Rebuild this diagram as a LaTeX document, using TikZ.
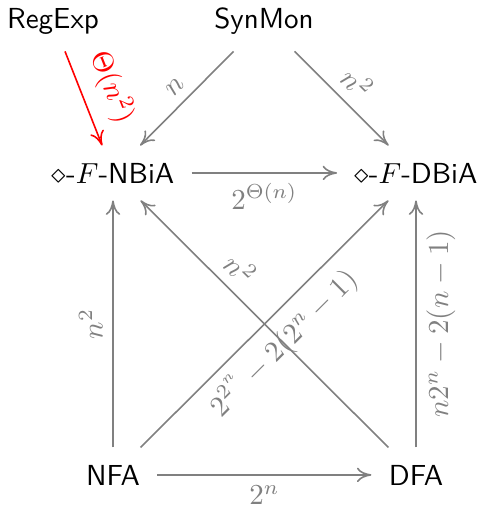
\documentclass[tikz,border=0pt]{standalone}
\usetikzlibrary{arrows.meta}
\renewcommand{\familydefault}{\sfdefault}
\begin{document}
\begin{tikzpicture}[x=0.345pt,y=-0.345pt,
  st/.style={font=\sffamily, inner sep=5.8pt, anchor=base},
  ar/.style={draw=gray, line width=0.55pt, -{Computer Modern Rightarrow[length=5pt,width=5pt]}},
  lb/.style={text=gray, sloped, midway}]
\useasboundingbox (0,0) rectangle (479,511);
\node[st] (re) at (53,28) {RegExp};
\node[st] (sm) at (264,28) {SynMon};
\node[st] (nbia) at (113,183) {$\diamond$-$F$-NBiA};
\node[st] (dbia) at (416,183) {$\diamond$-$F$-DBiA};
\node[st] (nfa) at (113,485) {NFA};
\node[st] (dfa) at (416,485) {DFA};
\draw[ar,draw=red] (re) -- node[lb,above=1.5pt,text=red]{$\Theta(n^2)$} (nbia);
\draw[ar] (sm) -- node[lb,above]{$n$} (nbia);
\draw[ar] (sm) -- node[lb,above]{$n^2$} (dbia);
\draw[ar] (nbia) -- node[lb,below]{$2^{\Theta(n)}$} (dbia);
\draw[ar] (nfa) -- node[lb,below]{$2^n$} (dfa);
\draw[ar] (nfa) -- node[lb,above]{$n^2$} (nbia);
\draw[ar] (dfa) -- node[lb,below]{$n2^n-2(n-1)$} (dbia);
\draw[ar] (nfa) -- node[lb,below]{$2^{2^n}-2(2^n-1)$} (dbia);
\draw[ar] (dfa) -- node[lb,above,pos=0.66]{$n^2$} (nbia);
\end{tikzpicture}
\end{document}
